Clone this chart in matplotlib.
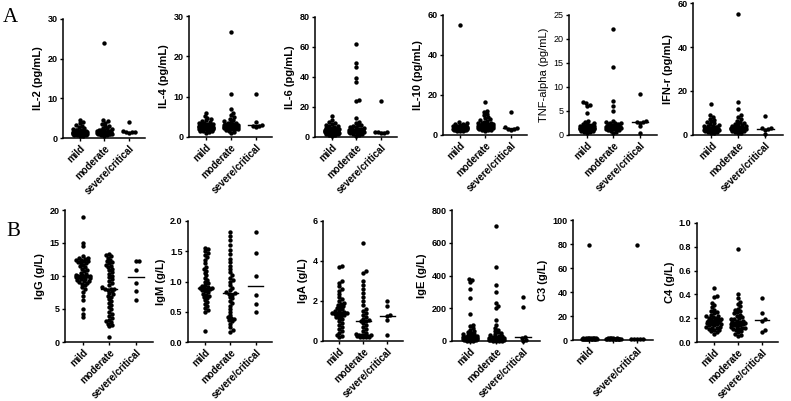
import numpy as np
import matplotlib
matplotlib.use("Agg")
import matplotlib.pyplot as plt

plt.rcParams['font.family'] = ['Liberation Sans', 'DejaVu Sans']

groups = ["mild", "moderate", "severe/critical"]

# ---- row A: cytokines (pg/mL) ----
il2_mild = [0.5, 0.6, 0.7, 0.8, 0.8, 0.9, 0.9, 1.0, 1.0, 1.0, 1.1, 1.1, 1.1, 1.2, 1.2, 1.2, 1.2, 1.3, 1.3, 1.3,
            1.3, 1.4, 1.4, 1.4, 1.5, 1.5, 1.5, 1.6, 1.6, 1.7, 1.7, 1.8, 1.9, 2.0, 2.1, 2.3, 2.5, 2.7, 3.0, 3.3,
            3.7, 4.1, 4.5, 1.0, 1.2, 1.4, 1.1, 0.9, 1.3, 1.5]
il2_mod = [0.6, 0.7, 0.8, 0.9, 1.0, 1.0, 1.1, 1.1, 1.2, 1.2, 1.2, 1.3, 1.3, 1.3, 1.4, 1.4, 1.4, 1.5, 1.5, 1.5,
           1.6, 1.6, 1.7, 1.7, 1.8, 1.9, 2.0, 2.1, 2.2, 2.4, 2.6, 2.9, 3.1, 3.5, 3.9, 4.2, 4.5, 24.0, 1.0, 1.2,
           1.3, 1.1, 1.4, 1.5, 1.6]
il2_sev = [1.2, 1.4, 1.5, 1.6, 1.7, 4.0]

il4_mild = [1.0, 1.2, 1.4, 1.5, 1.6, 1.7, 1.8, 1.9, 2.0, 2.0, 2.1, 2.1, 2.2, 2.2, 2.3, 2.3, 2.4, 2.4, 2.5, 2.5,
            2.5, 2.6, 2.6, 2.7, 2.7, 2.8, 2.8, 2.9, 3.0, 3.0, 3.1, 3.2, 3.3, 3.4, 3.5, 3.7, 3.9, 4.1, 4.4, 4.8,
            5.3, 6.0, 2.2, 2.4, 2.6, 2.8, 2.3, 2.5, 2.7, 1.9]
il4_mod = [0.9, 1.2, 1.5, 1.7, 1.9, 2.0, 2.1, 2.2, 2.3, 2.4, 2.4, 2.5, 2.5, 2.6, 2.6, 2.7, 2.7, 2.8, 2.8, 2.9,
           2.9, 3.0, 3.0, 3.1, 3.2, 3.3, 3.4, 3.5, 3.7, 3.9, 4.2, 4.5, 4.9, 5.4, 6.0, 6.9, 10.7, 26.0, 2.6, 2.8,
           3.0, 2.5, 2.7, 2.9, 3.1]
il4_sev = [2.6, 2.7, 2.8, 3.0, 3.6, 10.7]

il6_mild = [0.8, 1.2, 1.5, 1.8, 2.0, 2.2, 2.4, 2.6, 2.8, 3.0, 3.0, 3.2, 3.3, 3.5, 3.6, 3.8, 4.0, 4.0, 4.2, 4.4,
            4.5, 4.7, 4.9, 5.0, 5.2, 5.5, 5.8, 6.0, 6.3, 6.7, 7.0, 7.5, 8.0, 8.6, 9.2, 10.0, 11.0, 14.0, 3.4, 3.9,
            4.3, 4.8, 2.9, 3.7, 4.1, 5.3]
il6_mod = [0.8, 1.3, 1.8, 2.2, 2.5, 2.8, 3.0, 3.2, 3.4, 3.6, 3.8, 4.0, 4.2, 4.4, 4.6, 4.8, 5.0, 5.3, 5.6, 6.0,
           6.4, 6.8, 7.3, 7.8, 8.3, 9.0, 10.0, 12.5, 24.0, 24.8, 36.5, 39.5, 46.5, 49.5, 62.0, 3.5, 4.1, 4.5,
           3.9, 4.3]
il6_sev = [2.6, 2.8, 3.0, 3.2, 3.4, 24.2]

il10_mild = [1.8, 2.0, 2.2, 2.3, 2.4, 2.5, 2.6, 2.7, 2.8, 2.9, 3.0, 3.0, 3.1, 3.2, 3.2, 3.3, 3.4, 3.5, 3.5, 3.6,
             3.7, 3.8, 3.9, 4.0, 4.1, 4.2, 4.4, 4.6, 4.8, 5.0, 5.3, 5.6, 6.0, 6.4, 55.0, 3.1, 3.3, 2.9, 3.6, 2.7]
il10_mod = [2.0, 2.3, 2.5, 2.7, 2.9, 3.0, 3.2, 3.3, 3.5, 3.6, 3.8, 3.9, 4.0, 4.2, 4.3, 4.5, 4.6, 4.8, 5.0, 5.2,
            5.4, 5.6, 5.9, 6.2, 6.5, 6.9, 7.3, 7.8, 8.4, 9.0, 9.8, 10.5, 11.3, 12.0, 16.5, 3.7, 4.1, 4.4, 4.9,
            3.4, 5.5, 6.0]
il10_sev = [2.5, 3.0, 3.2, 3.5, 3.8, 11.6]

tnf_mild = [0.4, 0.6, 0.7, 0.8, 0.9, 1.0, 1.0, 1.1, 1.1, 1.2, 1.2, 1.3, 1.3, 1.3, 1.4, 1.4, 1.5, 1.5, 1.5, 1.6,
            1.6, 1.7, 1.7, 1.8, 1.8, 1.9, 2.0, 2.1, 2.2, 2.3, 2.5, 2.7, 2.9, 4.5, 6.0, 6.3, 6.6, 6.8, 1.4, 1.2,
            1.6, 1.5, 1.3, 1.7]
tnf_mod = [0.5, 0.7, 0.9, 1.0, 1.1, 1.2, 1.3, 1.3, 1.4, 1.4, 1.5, 1.5, 1.6, 1.6, 1.7, 1.7, 1.8, 1.8, 1.9, 1.9,
           2.0, 2.0, 2.1, 2.2, 2.3, 2.4, 2.5, 2.6, 2.8, 3.0, 5.0, 6.0, 7.0, 14.2, 22.0, 1.6, 1.8, 2.0, 1.5, 1.7]
tnf_sev = [0.5, 1.8, 2.6, 2.7, 2.8, 2.9, 8.6]

ifn_mild = [0.8, 1.0, 1.3, 1.5, 1.7, 1.9, 2.0, 2.1, 2.2, 2.3, 2.4, 2.5, 2.6, 2.7, 2.8, 2.9, 3.0, 3.0, 3.1, 3.2,
            3.3, 3.4, 3.5, 3.7, 3.9, 4.1, 4.3, 4.6, 4.9, 5.3, 5.7, 6.2, 6.8, 7.5, 8.3, 9.0, 14.0, 2.6, 2.8, 3.0,
            2.4, 3.2]
ifn_mod = [0.8, 1.1, 1.4, 1.7, 1.9, 2.1, 2.3, 2.5, 2.6, 2.7, 2.8, 2.9, 3.0, 3.1, 3.2, 3.3, 3.4, 3.5, 3.6, 3.8,
           4.0, 4.2, 4.5, 4.8, 5.1, 5.5, 6.0, 6.5, 7.2, 8.0, 9.0, 12.0, 15.0, 55.0, 3.0, 3.2, 2.8, 3.4, 2.6]
ifn_sev = [0.6, 2.2, 2.8, 3.0, 3.1, 8.6]

# ---- row B: immunoglobulins / complement (g/L) ----
igg_mild = [3.8, 4.3, 5.0, 6.3, 7.0, 7.6, 8.0, 8.3, 8.6, 8.8, 9.0, 9.1, 9.2, 9.3, 9.4, 9.5, 9.6, 9.7, 9.8, 9.9,
            9.9, 10.0, 10.0, 10.0, 10.0, 10.0, 10.1, 10.2, 10.3, 10.5, 10.7, 10.9, 11.1, 11.3, 11.5, 11.7, 11.9,
            12.0, 12.1, 12.2, 12.3, 12.4, 12.5, 12.6, 12.7, 12.8, 13.0, 14.5, 15.0, 19.0]
igg_mod = [0.7, 2.4, 2.6, 2.8, 3.0, 3.2, 3.4, 3.6, 4.0, 4.3, 4.6, 5.0, 5.3, 5.6, 5.9, 6.2, 6.5, 6.8, 7.0, 7.2,
           7.5, 7.7, 7.9, 8.0, 8.1, 8.1, 8.3, 8.6, 8.9, 9.2, 9.5, 9.8, 10.0, 10.3, 10.6, 10.9, 11.1, 11.3, 11.5,
           11.7, 11.9, 12.1, 12.3, 12.5, 12.8, 13.0, 13.2, 13.4]
igg_sev = [6.4, 7.8, 8.9, 10.9, 12.3, 12.3]

igm_mild = [0.18, 0.50, 0.53, 0.56, 0.60, 0.63, 0.66, 0.69, 0.72, 0.74, 0.76, 0.78, 0.80, 0.82, 0.84, 0.86, 0.87,
            0.88, 0.89, 0.90, 0.90, 0.91, 0.93, 0.95, 0.98, 1.00, 1.03, 1.06, 1.10, 1.14, 1.18, 1.21, 1.24, 1.30,
            1.36, 1.40, 1.44, 1.47, 1.50, 1.53, 1.55]
igm_mod = [0.17, 0.20, 0.25, 0.30, 0.34, 0.36, 0.38, 0.40, 0.42, 0.45, 0.50, 0.55, 0.60, 0.64, 0.68, 0.72, 0.75,
           0.78, 0.80, 0.81, 0.82, 0.86, 0.90, 0.95, 1.00, 1.03, 1.06, 1.10, 1.15, 1.20, 1.25, 1.32, 1.38, 1.45,
           1.52, 1.60, 1.68, 1.75, 1.82]
igm_sev = [0.50, 0.62, 0.77, 1.09, 1.47, 1.82]

iga_mild = [0.2, 0.25, 0.3, 0.4, 0.5, 0.6, 0.7, 0.8, 0.9, 1.0, 1.1, 1.15, 1.2, 1.25, 1.3, 1.32, 1.35, 1.38, 1.4,
            1.4, 1.42, 1.45, 1.5, 1.55, 1.6, 1.65, 1.7, 1.75, 1.8, 1.85, 1.9, 2.0, 2.1, 2.2, 2.35, 2.5, 2.6, 2.75,
            2.9, 3.0, 3.7, 3.75]
iga_mod = [0.2, 0.2, 0.22, 0.22, 0.25, 0.25, 0.27, 0.28, 0.3, 0.3, 0.32, 0.35, 0.4, 0.5, 0.6, 0.7, 0.8, 0.9, 1.0,
           1.0, 1.05, 1.1, 1.2, 1.3, 1.4, 1.5, 1.6, 1.8, 2.0, 2.2, 2.4, 2.6, 2.8, 3.0, 3.4, 3.5, 4.9]
iga_sev = [0.3, 1.05, 1.25, 1.3, 1.75, 2.0]

ige_mild = [1, 2, 3, 4, 5, 6, 7, 8, 9, 10, 11, 12, 13, 14, 15, 16, 18, 19, 20, 21, 22, 24, 25, 27, 29, 31, 33,
            36, 40, 44, 48, 55, 62, 70, 80, 90, 100, 165, 265, 320, 360, 375, 380]
ige_mod = [1, 2, 3, 3, 4, 5, 5, 6, 7, 8, 9, 10, 11, 12, 13, 14, 15, 16, 18, 20, 22, 25, 28, 32, 36, 40, 46, 52,
           60, 70, 80, 100, 130, 200, 215, 230, 300, 340, 450, 700]
ige_sev = [3, 8, 20, 25, 210, 268]

c3_mild = [0.7, 0.8, 0.9, 0.9, 1.0, 1.0, 1.0, 1.1, 1.1, 1.1, 1.1, 1.2, 1.2, 1.2, 1.2, 1.3, 1.3, 1.3, 1.4, 1.4,
           1.5, 1.6, 1.7, 79.0]
c3_mod = [0.7, 0.8, 0.9, 0.9, 1.0, 1.0, 1.0, 1.1, 1.1, 1.1, 1.2, 1.2, 1.2, 1.3, 1.3, 1.4, 1.5, 1.6]
c3_sev = [0.8, 0.9, 1.0, 1.1, 1.2, 79.0]

c4_mild = [0.07, 0.08, 0.09, 0.10, 0.10, 0.11, 0.12, 0.12, 0.13, 0.13, 0.14, 0.14, 0.15, 0.15, 0.16, 0.16, 0.17,
           0.17, 0.18, 0.18, 0.18, 0.19, 0.19, 0.20, 0.20, 0.21, 0.22, 0.22, 0.23, 0.24, 0.25, 0.26, 0.27, 0.29,
           0.31, 0.33, 0.38, 0.39, 0.45, 0.15, 0.17, 0.19]
c4_mod = [0.05, 0.06, 0.07, 0.08, 0.09, 0.10, 0.11, 0.11, 0.12, 0.12, 0.13, 0.13, 0.14, 0.14, 0.15, 0.15, 0.16,
          0.16, 0.17, 0.18, 0.18, 0.19, 0.19, 0.20, 0.21, 0.22, 0.23, 0.24, 0.25, 0.26, 0.27, 0.28, 0.30, 0.32,
          0.34, 0.37, 0.40, 0.78, 0.15, 0.17]
c4_sev = [0.08, 0.10, 0.18, 0.19, 0.24, 0.37]

# panel: label, data, ymax, tick step, tick fmt, axes box in px (left, top, right, bottom)
panels = [
    ("IL-2 (pg/mL)", [il2_mild, il2_mod, il2_sev], 30, 10, "{:.0f}", (63, 19, 145, 138)),
    ("IL-4 (pg/mL)", [il4_mild, il4_mod, il4_sev], 30, 10, "{:.0f}", (189, 16, 272, 137)),
    ("IL-6 (pg/mL)", [il6_mild, il6_mod, il6_sev], 80, 20, "{:.0f}", (315, 17, 397, 137)),
    ("IL-10 (pg/mL)", [il10_mild, il10_mod, il10_sev], 60, 20, "{:.0f}", (443, 15, 527, 135)),
    ("TNF-alpha (pg/mL)", [tnf_mild, tnf_mod, tnf_sev], 25, 5, "{:.0f}", (569, 15, 657, 135)),
    ("IFN-r (pg/mL)", [ifn_mild, ifn_mod, ifn_sev], 60, 20, "{:.0f}", (693, 3, 783, 135)),
    ("IgG (g/L)", [igg_mild, igg_mod, igg_sev], 20, 5, "{:.0f}", (65, 210, 153, 342)),
    ("IgM (g/L)", [igm_mild, igm_mod, igm_sev], 2.0, 0.5, "{:.1f}", (188, 221, 272, 342)),
    ("IgA (g/L)", [iga_mild, iga_mod, iga_sev], 6, 2, "{:.0f}", (323, 221, 403, 341)),
    ("IgE (g/L)", [ige_mild, ige_mod, ige_sev], 800, 200, "{:.0f}", (452, 210, 540, 341)),
    ("C3 (g/L)", [c3_mild, c3_mod, c3_sev], 100, 20, "{:.0f}", (573, 220, 653, 340)),
    ("C4 (g/L)", [c4_mild, c4_mod, c4_sev], 1.0, 0.2, "{:.1f}", (697, 223, 778, 342)),
]

W, H = 791, 401
XLIM = (-0.68, 2.65)


def swarm_offsets(vals, ppu_y, d=3.0, step=0.6, cap=7.5):
    # greedy beeswarm in pixel space, returns x offsets in px
    vals = np.asarray(vals, float)
    order = np.argsort(vals)
    xs = np.zeros(len(vals))
    placed = []
    cands = [0.0]
    k = 1
    while k * step <= cap:
        cands += [k * step, -k * step]
        k += 1
    for i in order:
        y = vals[i] * ppu_y
        best, best_d = 0.0, -1
        for x in cands:
            if placed:
                p = np.array(placed)
                md = np.min(np.hypot(p[:, 0] - x, p[:, 1] - y))
            else:
                md = 1e9
            if md >= d:
                best = x
                break
            if md > best_d:
                best, best_d = x, md
        xs[i] = best
        placed.append((best, y))
    return xs


fig = plt.figure(figsize=(W / 100, H / 100), dpi=100)

for label, data, ymax, step, fmt, (l, t, r, b) in panels:
    ax = fig.add_axes([l / W, 1 - b / H, (r - l) / W, (b - t) / H])
    weight = "normal" if label.startswith("TNF") else "bold"
    ppu_y = (b - t) / ymax
    ppu_x = (r - l) / (XLIM[1] - XLIM[0])
    for gi, vals in enumerate(data):
        off = swarm_offsets(vals, ppu_y)
        ax.scatter(gi + off / ppu_x, vals, s=10, c="black", linewidths=0, clip_on=False, zorder=3)
        med = np.median(vals)
        ax.plot([gi - 0.3, gi + 0.3], [med, med], color="black", lw=1.0, zorder=2)
    ax.set_xlim(*XLIM)
    ax.set_ylim(0, ymax)
    ticks = np.arange(0, ymax + step / 2, step)
    ax.set_yticks(ticks)
    ax.set_yticklabels([fmt.format(v) for v in ticks], fontsize=6.5, fontweight=weight)
    ax.set_xticks(range(3))
    xl = list(groups)
    if label.startswith("C3"):
        xl[1] = ""
    ax.set_xticklabels(xl, rotation=45, ha="right", rotation_mode="anchor", fontsize=7, fontweight="bold")
    ax.set_ylabel(label, fontsize=8, fontweight=weight, labelpad=3)
    for s in ["top", "right"]:
        ax.spines[s].set_visible(False)
    for s in ["left", "bottom"]:
        ax.spines[s].set_linewidth(1.1)
    ax.tick_params(width=1.0, length=2.5, pad=1.5)

fig.text(3 / W, 1 - 22 / H, "A", family=["Liberation Serif"], fontsize=15)
fig.text(6 / W, 1 - 236 / H, "B", family=["Liberation Serif"], fontsize=15)

fig.savefig("out.png", dpi=100)
